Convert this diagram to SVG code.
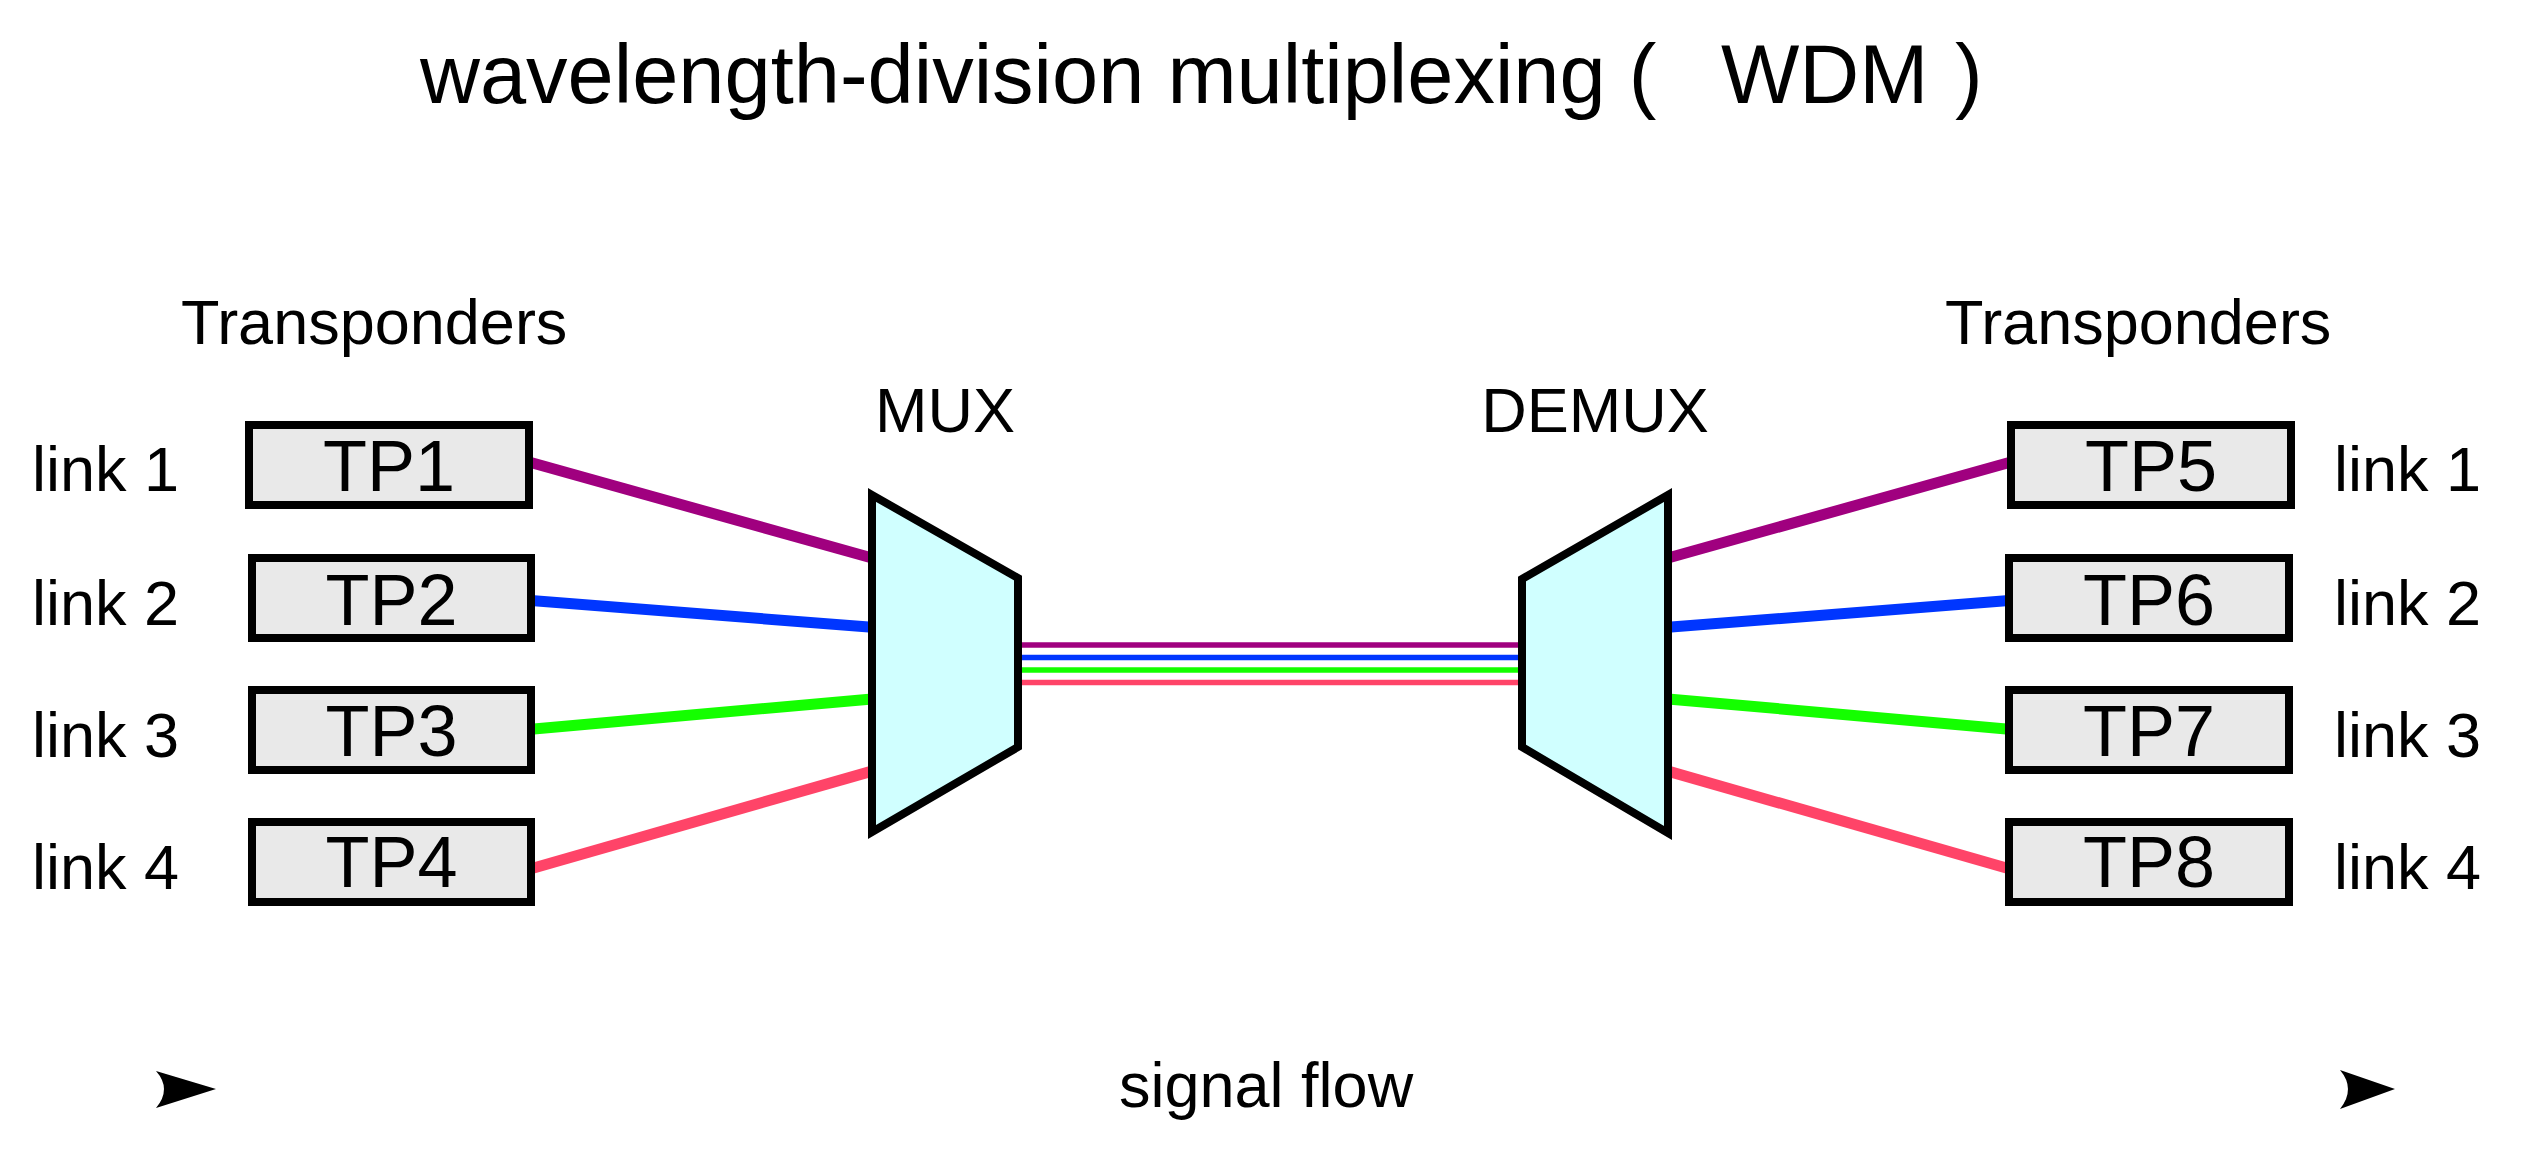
<svg xmlns="http://www.w3.org/2000/svg" width="2543" height="1162" viewBox="0 0 2543 1162">
<style>
text{font-family:"Liberation Sans",Arial,sans-serif;fill:#000}
.title{font-size:83px}
.lbl{font-size:63px}
.tp{font-size:72px;text-anchor:middle}
.mid{text-anchor:middle}
.box{fill:#e9e9e9;stroke:#000;stroke-width:8}
.dev{fill:#d0ffff;stroke:#000;stroke-width:8;stroke-linejoin:miter;stroke-miterlimit:10}
.c{fill:none;stroke-width:11}
.f{fill:none;stroke-width:5.5}
.p{stroke:#a0007f}.b{stroke:#0036ff}.g{stroke:#14ff00}.r{stroke:#ff4468}
</style>
<rect width="2543" height="1162" fill="#fff"/>
<g id="title">
<text class="title" x="420" y="103">wavelength-division multiplexing (<tspan x="1721">WDM</tspan><tspan x="1955">)</tspan></text>
</g>
<g id="labels">
<text class="lbl" x="181" y="344">Transponders</text>
<text class="lbl" x="1945" y="344">Transponders</text>
<text class="lbl" x="32" y="491">link 1</text>
<text class="lbl" x="32" y="625">link 2</text>
<text class="lbl" x="32" y="757">link 3</text>
<text class="lbl" x="32" y="889">link 4</text>
<text class="lbl" x="2334" y="491">link 1</text>
<text class="lbl" x="2334" y="625">link 2</text>
<text class="lbl" x="2334" y="757">link 3</text>
<text class="lbl" x="2334" y="889">link 4</text>
</g>
<g id="connectors">
<line class="c p" x1="529" y1="462" x2="872" y2="558"/>
<line class="c b" x1="531" y1="600.5" x2="872" y2="627.3"/>
<line class="c g" x1="531" y1="729.2" x2="872" y2="698.9"/>
<line class="c r" x1="531" y1="868.7" x2="872" y2="771.1"/>
<line class="f p" x1="1018" y1="645" x2="1522" y2="645"/>
<line class="f b" x1="1018" y1="657.5" x2="1522" y2="657.5"/>
<line class="f g" x1="1018" y1="670" x2="1522" y2="670"/>
<line class="f r" x1="1018" y1="682.5" x2="1522" y2="682.5"/>
<line class="c p" x1="2011" y1="462" x2="1668" y2="558"/>
<line class="c b" x1="2009" y1="600.5" x2="1668" y2="627.3"/>
<line class="c g" x1="2009" y1="729.2" x2="1668" y2="698.9"/>
<line class="c r" x1="2009" y1="868.7" x2="1668" y2="771.1"/>
</g>
<g id="TP1"><rect class="box" x="249" y="425" width="280" height="80"/><text class="tp" x="389" y="491">TP1</text></g>
<g id="TP2"><rect class="box" x="252" y="558" width="279" height="80"/><text class="tp" x="391.5" y="625">TP2</text></g>
<g id="TP3"><rect class="box" x="252" y="690" width="279" height="80"/><text class="tp" x="391.5" y="756">TP3</text></g>
<g id="TP4"><rect class="box" x="252" y="822" width="279" height="80"/><text class="tp" x="391.5" y="887">TP4</text></g>
<g id="TP5"><rect class="box" x="2011" y="425" width="280" height="80"/><text class="tp" x="2151" y="491">TP5</text></g>
<g id="TP6"><rect class="box" x="2009" y="558" width="280" height="80"/><text class="tp" x="2149" y="625">TP6</text></g>
<g id="TP7"><rect class="box" x="2009" y="690" width="280" height="80"/><text class="tp" x="2149" y="756">TP7</text></g>
<g id="TP8"><rect class="box" x="2009" y="822" width="280" height="80"/><text class="tp" x="2149" y="887">TP8</text></g>
<g id="MUX">
<polygon class="dev" points="872,495 1018,578 1018,747 872,832"/>
<text class="lbl mid" x="945" y="432">MUX</text>
</g>
<g id="DEMUX">
<polygon class="dev" points="1522,579 1668,495 1668,833 1522,747"/>
<text class="lbl mid" x="1595" y="432">DEMUX</text>
</g>
<g id="signal-flow">
<path d="M156,1071 L216,1089 L156,1108 Q172,1089 156,1071 Z" fill="#000"/>
<text class="lbl" x="1119" y="1107">signal flow</text>
<path d="M2340,1070 L2395,1089 L2340,1109 Q2356,1089 2340,1070 Z" fill="#000"/>
</g>
</svg>
